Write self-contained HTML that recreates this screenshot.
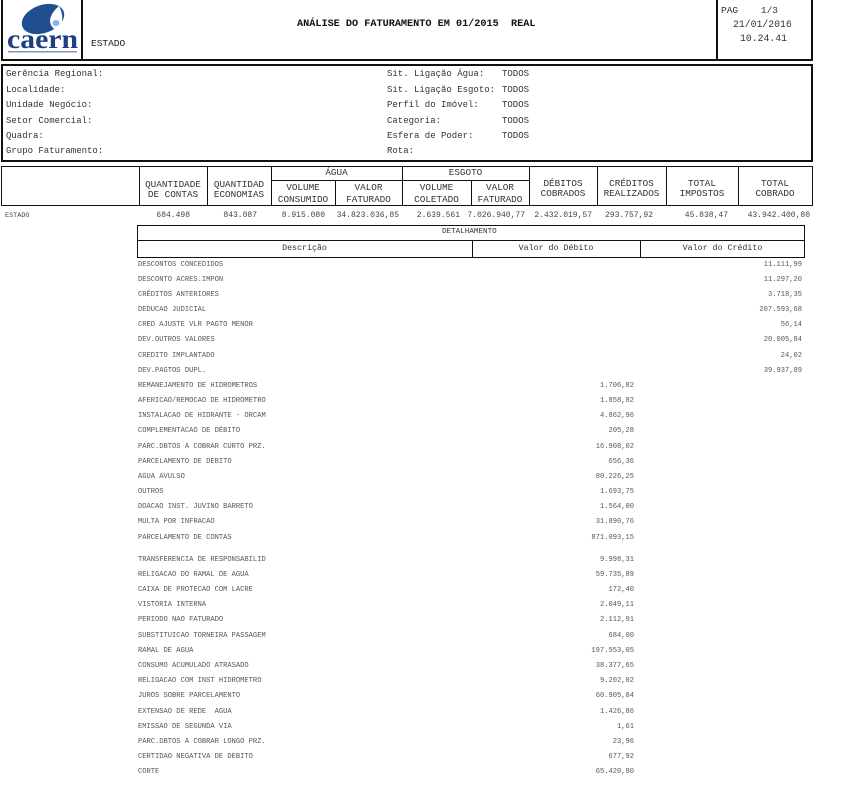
<!DOCTYPE html>
<html><head><meta charset="utf-8">
<style>
html,body{margin:0;padding:0;background:#fff;}
body{width:847px;height:798px;position:relative;overflow:hidden;font-family:"Liberation Mono",monospace;color:#222;}
.a{position:absolute;white-space:pre;}
.box{position:absolute;box-sizing:border-box;border:2px solid #111;}
.ln{position:absolute;background:#111;}
.t9{font-size:9px;line-height:10px;color:#333;}
.h{font-size:9.3px;line-height:10px;color:#333;text-align:center;}
.v{font-size:8px;line-height:10px;color:#444;text-align:right;}
.r{position:absolute;left:0;width:847px;height:10px;font-size:7.1px;line-height:10px;color:#555;}
.r span{position:absolute;white-space:pre;}
.r .l{left:138px;}
.r .d{right:213px;}
.r .c{right:45px;}
</style></head><body>

<!-- top header box -->
<div class="box" style="left:1px;top:-2px;width:812px;height:63px;"></div>
<div class="ln" style="left:81px;top:0;width:2px;height:60px;"></div>
<div class="ln" style="left:716px;top:0;width:2px;height:60px;"></div>

<svg style="position:absolute;left:3px;top:1px" width="78" height="58" viewBox="0 0 78 58">
  <ellipse cx="40" cy="18" rx="22" ry="14" transform="rotate(-20 40 18)" fill="#1f4f91"/>
  <path d="M56 5 C48 12 44 20 50 27 C54 30 58 26 59 20 C60 14 58 9 56 5 Z" fill="#fff"/>
  <ellipse cx="53" cy="22" rx="3.5" ry="3" fill="#7fb6e6"/>
  <text x="4" y="47" font-family="Liberation Serif, serif" font-weight="bold" font-size="27" fill="#1f3f7f" textLength="71" lengthAdjust="spacingAndGlyphs">caern</text>
  <rect x="5" y="50" width="69" height="1.5" fill="#7f95bb"/>
</svg>

<div class="a" style="left:91px;top:39px;font-size:9.5px;line-height:10px;color:#222;">ESTADO</div>
<div class="a" style="left:297px;top:19px;font-size:10.2px;line-height:12px;font-weight:bold;color:#111;">ANÁLISE DO FATURAMENTO EM 01/2015  REAL</div>
<div class="a" style="left:721px;top:5px;font-size:9.5px;line-height:11px;color:#333;">PAG    1/3</div>
<div class="a" style="left:733px;top:19px;font-size:9.8px;line-height:11px;color:#333;">21/01/2016</div>
<div class="a" style="left:740px;top:33px;font-size:9.8px;line-height:11px;color:#333;">10.24.41</div>

<!-- filter box -->
<div class="box" style="left:1px;top:64px;width:812px;height:98px;"></div>
<div class="a t9" style="left:6px;top:69px;">Gerência Regional:</div>
<div class="a t9" style="left:6px;top:85px;">Localidade:</div>
<div class="a t9" style="left:6px;top:100px;">Unidade Negócio:</div>
<div class="a t9" style="left:6px;top:116px;">Setor Comercial:</div>
<div class="a t9" style="left:6px;top:131px;">Quadra:</div>
<div class="a t9" style="left:6px;top:146px;">Grupo Faturamento:</div>
<div class="a t9" style="left:387px;top:69px;">Sit. Ligação Água:</div>
<div class="a t9" style="left:387px;top:85px;">Sit. Ligação Esgoto:</div>
<div class="a t9" style="left:387px;top:100px;">Perfil do Imóvel:</div>
<div class="a t9" style="left:387px;top:116px;">Categoria:</div>
<div class="a t9" style="left:387px;top:131px;">Esfera de Poder:</div>
<div class="a t9" style="left:387px;top:146px;">Rota:</div>
<div class="a t9" style="left:502px;top:69px;">TODOS</div>
<div class="a t9" style="left:502px;top:85px;">TODOS</div>
<div class="a t9" style="left:502px;top:100px;">TODOS</div>
<div class="a t9" style="left:502px;top:116px;">TODOS</div>
<div class="a t9" style="left:502px;top:131px;">TODOS</div>

<!-- column header table -->
<div class="box" style="left:1px;top:166px;width:812px;height:40px;border-width:1.5px;"></div>
<div class="ln" style="left:139px;top:166px;width:1px;height:40px;"></div>
<div class="ln" style="left:207px;top:166px;width:1px;height:40px;"></div>
<div class="ln" style="left:271px;top:166px;width:1px;height:40px;"></div>
<div class="ln" style="left:335px;top:181px;width:1px;height:25px;"></div>
<div class="ln" style="left:402px;top:166px;width:1px;height:40px;"></div>
<div class="ln" style="left:471px;top:181px;width:1px;height:25px;"></div>
<div class="ln" style="left:529px;top:166px;width:1px;height:40px;"></div>
<div class="ln" style="left:597px;top:166px;width:1px;height:40px;"></div>
<div class="ln" style="left:666px;top:166px;width:1px;height:40px;"></div>
<div class="ln" style="left:738px;top:166px;width:1px;height:40px;"></div>
<div class="ln" style="left:271px;top:180px;width:258px;height:1px;"></div>

<div class="a h" style="left:139px;top:180px;width:68px;">QUANTIDADE<br>DE CONTAS</div>
<div class="a h" style="left:207px;top:180px;width:64px;">QUANTIDAD<br>ECONOMIAS</div>
<div class="a h" style="left:271px;top:168px;width:131px;">ÁGUA</div>
<div class="a h" style="left:402px;top:168px;width:127px;">ESGOTO</div>
<div class="a h" style="left:271px;top:182px;width:64px;line-height:12px;">VOLUME<br>CONSUMIDO</div>
<div class="a h" style="left:335px;top:182px;width:67px;line-height:12px;">VALOR<br>FATURADO</div>
<div class="a h" style="left:402px;top:182px;width:69px;line-height:12px;">VOLUME<br>COLETADO</div>
<div class="a h" style="left:471px;top:182px;width:58px;line-height:12px;">VALOR<br>FATURADO</div>
<div class="a h" style="left:529px;top:179px;width:68px;">DÉBITOS<br>COBRADOS</div>
<div class="a h" style="left:597px;top:179px;width:69px;">CRÉDITOS<br>REALIZADOS</div>
<div class="a h" style="left:666px;top:179px;width:72px;">TOTAL<br>IMPOSTOS</div>
<div class="a h" style="left:738px;top:179px;width:74px;">TOTAL<br>COBRADO</div>

<!-- totals row -->
<div class="a" style="left:5px;top:211px;font-size:6.8px;line-height:10px;color:#444;">ESTADO</div>
<div class="a v" style="right:657px;top:211px;">684.498</div>
<div class="a v" style="right:590px;top:211px;">843.087</div>
<div class="a v" style="right:522px;top:211px;">8.915.080</div>
<div class="a v" style="right:448px;top:211px;">34.823.036,85</div>
<div class="a v" style="right:387px;top:211px;">2.639.561</div>
<div class="a v" style="right:322px;top:211px;">7.026.940,77</div>
<div class="a v" style="right:255px;top:211px;">2.432.019,57</div>
<div class="a v" style="right:194px;top:211px;">293.757,92</div>
<div class="a v" style="right:119px;top:211px;">45.838,47</div>
<div class="a v" style="right:37px;top:211px;">43.942.400,80</div>

<!-- detail header -->
<div class="box" style="left:137px;top:225px;width:668px;height:33px;border-width:1.5px;"></div>
<div class="ln" style="left:137px;top:240px;width:668px;height:1px;"></div>
<div class="ln" style="left:472px;top:240px;width:1px;height:18px;"></div>
<div class="ln" style="left:640px;top:240px;width:1px;height:18px;"></div>
<div class="a" style="left:442px;top:227px;font-size:7.6px;line-height:10px;color:#333;">DETALHAMENTO</div>
<div class="a" style="left:137px;top:244px;width:335px;text-align:center;font-size:8.3px;line-height:10px;color:#333;">Descrição</div>
<div class="a" style="left:472px;top:244px;width:168px;text-align:center;font-size:8.3px;line-height:10px;color:#333;">Valor do Débito</div>
<div class="a" style="left:640px;top:244px;width:165px;text-align:center;font-size:8.3px;line-height:10px;color:#333;">Valor do Crédito</div>

<!-- detail rows -->
<div class="r" style="top:259.5px"><span class="l">DESCONTOS CONCEDIDOS</span><span class="c">11.111,99</span></div>
<div class="r" style="top:274.7px"><span class="l">DESCONTO ACRES.IMPON</span><span class="c">11.297,20</span></div>
<div class="r" style="top:289.8px"><span class="l">CRÉDITOS ANTERIORES</span><span class="c">3.718,35</span></div>
<div class="r" style="top:305px"><span class="l">DEDUCAO JUDICIAL</span><span class="c">207.593,68</span></div>
<div class="r" style="top:320.2px"><span class="l">CRED AJUSTE VLR PAGTO MENOR</span><span class="c">56,14</span></div>
<div class="r" style="top:335.4px"><span class="l">DEV.OUTROS VALORES</span><span class="c">20.005,84</span></div>
<div class="r" style="top:350.5px"><span class="l">CREDITO IMPLANTADO</span><span class="c">24,02</span></div>
<div class="r" style="top:365.7px"><span class="l">DEV.PAGTOS DUPL.</span><span class="c">39.937,89</span></div>
<div class="r" style="top:380.9px"><span class="l">REMANEJAMENTO DE HIDROMETROS</span><span class="d">1.706,82</span></div>
<div class="r" style="top:396px"><span class="l">AFERICAO/REMOCAO DE HIDROMETRO</span><span class="d">1.858,82</span></div>
<div class="r" style="top:411.2px"><span class="l">INSTALACAO DE HIDRANTE - ORCAM</span><span class="d">4.862,96</span></div>
<div class="r" style="top:426.4px"><span class="l">COMPLEMENTACAO DE DÉBITO</span><span class="d">205,28</span></div>
<div class="r" style="top:441.5px"><span class="l">PARC.DBTOS A COBRAR CURTO PRZ.</span><span class="d">16.908,02</span></div>
<div class="r" style="top:456.7px"><span class="l">PARCELAMENTO DE DEBITO</span><span class="d">656,36</span></div>
<div class="r" style="top:471.9px"><span class="l">AGUA AVULSO</span><span class="d">80.226,25</span></div>
<div class="r" style="top:487.1px"><span class="l">OUTROS</span><span class="d">1.693,75</span></div>
<div class="r" style="top:502.2px"><span class="l">DOACAO INST. JUVINO BARRETO</span><span class="d">1.564,00</span></div>
<div class="r" style="top:517.4px"><span class="l">MULTA POR INFRACAO</span><span class="d">31.890,76</span></div>
<div class="r" style="top:532.6px"><span class="l">PARCELAMENTO DE CONTAS</span><span class="d">871.093,15</span></div>

<div class="r" style="top:554.5px"><span class="l">TRANSFERENCIA DE RESPONSABILID</span><span class="d">9.998,31</span></div>
<div class="r" style="top:569.7px"><span class="l">RELIGACAO DO RAMAL DE AGUA</span><span class="d">59.735,89</span></div>
<div class="r" style="top:584.9px"><span class="l">CAIXA DE PROTECAO COM LACRE</span><span class="d">172,40</span></div>
<div class="r" style="top:600.1px"><span class="l">VISTORIA INTERNA</span><span class="d">2.049,11</span></div>
<div class="r" style="top:615.3px"><span class="l">PERIODO NAO FATURADO</span><span class="d">2.112,91</span></div>
<div class="r" style="top:630.6px"><span class="l">SUBSTITUICAO TORNEIRA PASSAGEM</span><span class="d">684,00</span></div>
<div class="r" style="top:645.8px"><span class="l">RAMAL DE AGUA</span><span class="d">197.553,05</span></div>
<div class="r" style="top:661px"><span class="l">CONSUMO ACUMULADO ATRASADO</span><span class="d">38.377,65</span></div>
<div class="r" style="top:676.2px"><span class="l">RELIGACAO COM INST HIDROMETRO</span><span class="d">9.202,02</span></div>
<div class="r" style="top:691.4px"><span class="l">JUROS SOBRE PARCELAMENTO</span><span class="d">60.905,84</span></div>
<div class="r" style="top:706.6px"><span class="l">EXTENSAO DE REDE  AGUA</span><span class="d">1.426,86</span></div>
<div class="r" style="top:721.8px"><span class="l">EMISSAO DE SEGUNDA VIA</span><span class="d">1,61</span></div>
<div class="r" style="top:737px"><span class="l">PARC.DBTOS A COBRAR LONGO PRZ.</span><span class="d">23,96</span></div>
<div class="r" style="top:752.2px"><span class="l">CERTIDAO NEGATIVA DE DEBITO</span><span class="d">677,92</span></div>
<div class="r" style="top:767.4px"><span class="l">CORTE</span><span class="d">65.420,80</span></div>

</body></html>
